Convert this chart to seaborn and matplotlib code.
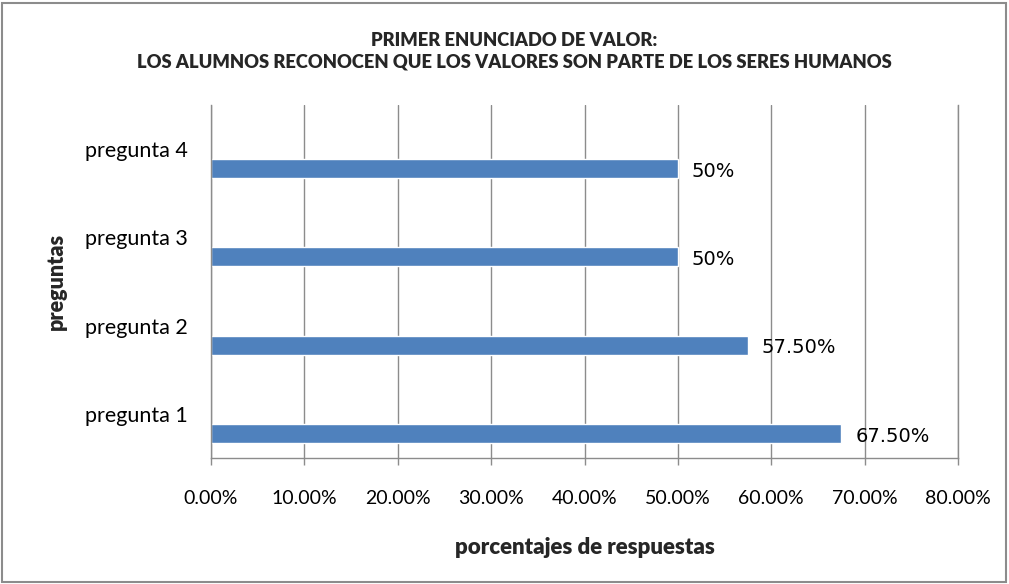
import matplotlib
matplotlib.use("Agg")
import matplotlib.pyplot as plt
import seaborn as sns
import pandas as pd
from matplotlib.ticker import FuncFormatter, MultipleLocator
from matplotlib.patches import Rectangle

categories = ["pregunta 4", "pregunta 3", "pregunta 2", "pregunta 1"]
values = [0.50, 0.50, 0.575, 0.675]
value_labels = ["50%", "50%", "57.50%", "67.50%"]
title_lines = ["PRIMER ENUNCIADO DE VALOR:",
               "LOS ALUMNOS RECONOCEN QUE LOS VALORES SON PARTE DE LOS SERES HUMANOS"]
xlabel = "porcentajes de respuestas"
ylabel = "preguntas"

sns.set_theme(style="white")
plt.rcParams['font.family'] = ['Lato', 'DejaVu Sans']

df = pd.DataFrame({"pregunta": categories, "valor": values})

fig = plt.figure(figsize=(10.09, 5.84), dpi=100)
ax = fig.add_axes([211/1009, 1-458/584, (958-211)/1009, (458-105)/584])

sns.barplot(data=df, y="pregunta", x="valor", order=categories, orient="h",
            color="#4F81BD", saturation=1, width=0.215, ax=ax)

off = 0.22
ax.set_ylim(len(categories) - 0.5 - off, -0.5 - off)
ax.set_yticks([i - off for i in range(len(categories))])
ax.set_yticklabels(categories)
ax.tick_params(axis="y", length=0, pad=17, labelsize=15.5, labelcolor="#000000")

ax.set_xlim(0, 0.8)
ax.xaxis.set_major_locator(MultipleLocator(0.1))
ax.xaxis.set_major_formatter(FuncFormatter(lambda v, p: f"{v*100:.2f}%"))
ax.tick_params(axis="x", direction="out", length=5, width=1, color="#8c8c8c",
               pad=18, labelsize=14, labelcolor="#000000", bottom=True)

ax.grid(axis="x", color="#8c8c8c", linewidth=1)
ax.grid(axis="y", visible=False)
ax.set_axisbelow(True)
ax.spines["top"].set_visible(False)
for s in ["left", "bottom", "right"]:
    ax.spines[s].set_color("#8c8c8c")
    ax.spines[s].set_linewidth(1)

for p, lab in zip(ax.patches, value_labels):
    w = p.get_width()
    yc = p.get_y() + p.get_height() / 2
    ax.annotate(lab, (w, yc), xytext=(10, -2), textcoords="offset points",
                ha="left", va="center", fontsize=14, family="DejaVu Sans",
                color="#000000")

ax.set_xlabel(xlabel, fontsize=16, fontweight="heavy", labelpad=22)
ax.set_ylabel(ylabel, fontsize=15.5, fontweight="heavy", labelpad=13)

fig.text(0.5 + 10/1009, 1-40/584, title_lines[0], ha="center", va="center",
         fontsize=13.2, fontweight="heavy")
fig.text(0.5 + 10/1009, 1-62/584, title_lines[1], ha="center", va="center",
         fontsize=13.2, fontweight="heavy")

fig.patches.append(Rectangle((2/1009, 2/584), 1-5/1009, 1-5/584,
                             transform=fig.transFigure, fill=False,
                             edgecolor="#8c8c8c", linewidth=1.5))

fig.savefig("out.png", dpi=100)
